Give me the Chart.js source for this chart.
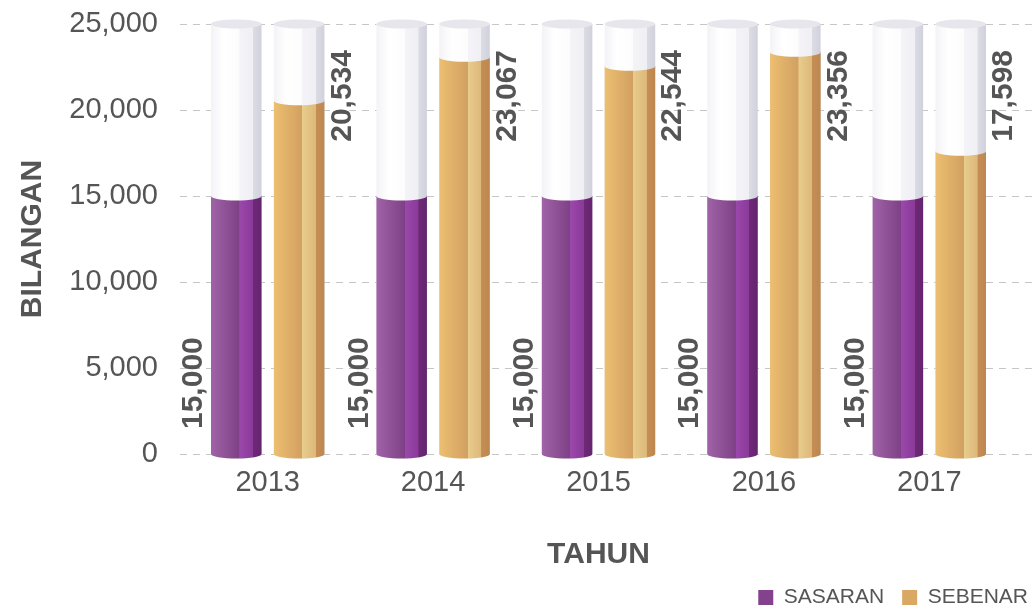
<!DOCTYPE html>
<html>
<head>
<meta charset="utf-8">
<script src="https://cdn.jsdelivr.net/npm/chart.js@4"></script>
<style>
  html, body { margin: 0; padding: 0; background: #fff; }
</style>
</head>
<body>
<canvas id="chart" width="1035" height="609"></canvas>
<script>
const years = ['2013', '2014', '2015', '2016', '2017'];
const sasaran = [15000, 15000, 15000, 15000, 15000];
const sebenar = [20534, 23067, 22544, 23356, 17598];
const yTicks = [0, 5000, 10000, 15000, 20000, 25000];

const textGrey = '#555555';
const fontFamily = '"Liberation Sans", Arial, sans-serif';

// horizontal shading for the 3D tubes and their fills
const shades = {
  tube: [[0, '#f3f3f7'], [0.25, '#ffffff'], [0.56, '#fcfcfd'], [0.565, '#f4f4f8'], [0.83, '#efeff4'], [0.835, '#dcdce5'], [1, '#d1d1dc']],
  purple: [[0, '#a163a8'], [0.56, '#7e4186'], [0.565, '#9a48ab'], [0.83, '#8a3a99'], [0.835, '#6e2977'], [1, '#652470']],
  gold: [[0, '#ecbf70'], [0.56, '#d2a062'], [0.565, '#e7cd8c'], [0.83, '#ddb87a'], [0.835, '#c68e55'], [1, '#bd874f']]
};

function hGrad(ctx, x0, x1, stops) {
  const g = ctx.createLinearGradient(x0, 0, x1, 0);
  stops.forEach(s => g.addColorStop(s[0], s[1]));
  return g;
}

function cylinder(ctx, cx, hw, top, base, ry, stops) {
  ctx.beginPath();
  ctx.moveTo(cx - hw, top);
  ctx.lineTo(cx - hw, base);
  ctx.ellipse(cx, base, hw, ry, 0, Math.PI, 0, true);
  ctx.lineTo(cx + hw, top);
  ctx.closePath();
  ctx.fillStyle = hGrad(ctx, cx - hw, cx + hw, stops);
  ctx.fill();
}

function cap(ctx, cx, hw, y, ry, fill) {
  ctx.beginPath();
  ctx.ellipse(cx, y, hw, ry, 0, 0, Math.PI * 2);
  ctx.fillStyle = fill;
  ctx.fill();
}

const cylinders = {
  id: 'cylinders',
  afterUpdate(chart) {
    // push the legend into the bottom right corner
    const lg = chart.legend;
    lg.left += 34; lg.right += 34;
    lg.top -= 4; lg.bottom -= 4;
  },
  beforeDatasetsDraw(chart) {
    const {ctx, chartArea, scales: {y}} = chart;
    const ry = 4.5;
    ctx.save();
    ctx.strokeStyle = '#c6c6c6';
    ctx.lineWidth = 1;
    ctx.setLineDash([7, 6]);
    yTicks.forEach(v => {
      const py = Math.round(y.getPixelForValue(v)) + 0.5;
      ctx.beginPath();
      ctx.moveTo(chartArea.left - 5, py);
      ctx.lineTo(chart.width, py);
      ctx.stroke();
    });
    ctx.setLineDash([]);
    const topY = y.getPixelForValue(yTicks[yTicks.length - 1]);
    chart.data.datasets.forEach((ds, di) => {
      chart.getDatasetMeta(di).data.forEach(bar => {
        const hw = bar.width / 2;
        cylinder(ctx, bar.x, hw, topY, bar.base, ry, shades.tube);
        cap(ctx, bar.x, hw, topY, ry, '#e6e6ec');
        cylinder(ctx, bar.x, hw, bar.y, bar.base, ry, shades[ds.shade]);
        cap(ctx, bar.x, hw, bar.y, ry, hGrad(ctx, bar.x - hw, bar.x + hw, shades.tube));
      });
    });
    ctx.restore();
  },
  beforeDatasetDraw() {
    return false;
  },
  afterDatasetsDraw(chart) {
    const {ctx, chartArea} = chart;
    ctx.save();
    ctx.font = 'bold 30px ' + fontFamily;
    ctx.fillStyle = textGrey;
    ctx.textBaseline = 'middle';
    chart.data.datasets.forEach((ds, di) => {
      chart.getDatasetMeta(di).data.forEach((bar, i) => {
        const hw = bar.width / 2;
        const low = di === 0;
        const tx = low ? bar.x - hw - 17 : bar.x + hw + 18;
        const ty = low ? chartArea.bottom - 25 : chartArea.top + 26;
        ctx.save();
        ctx.translate(tx, ty);
        ctx.rotate(-Math.PI / 2);
        ctx.textAlign = low ? 'left' : 'right';
        ctx.fillText(ds.data[i].toLocaleString('en-US'), 0, 0);
        ctx.restore();
      });
    });
    ctx.restore();
  }
};

new Chart(document.getElementById('chart'), {
  type: 'bar',
  data: {
    labels: years,
    datasets: [
      { label: 'SASARAN', data: sasaran, backgroundColor: '#84428c', shade: 'purple' },
      { label: 'SEBENAR', data: sebenar, backgroundColor: '#d9a862', shade: 'gold' }
    ]
  },
  options: {
    responsive: false,
    animation: false,
    layout: { padding: { top: 24, right: 23, bottom: -13, left: 0 } },
    datasets: { bar: { categoryPercentage: 0.76, barPercentage: 0.804 } },
    scales: {
      x: {
        grid: { display: false },
        border: { display: false },
        ticks: { color: textGrey, font: { family: fontFamily, size: 29 }, padding: 4 },
        title: {
          display: true, text: 'TAHUN', color: textGrey,
          font: { family: fontFamily, size: 30, weight: 'bold' },
          padding: { top: 0, bottom: 0 }
        },
        afterFit(scale) { scale.height = 119; }
      },
      y: {
        min: 0,
        max: yTicks[yTicks.length - 1],
        grid: { display: false, drawTicks: false },
        border: { display: false },
        afterBuildTicks(scale) { scale.ticks = yTicks.map(v => ({ value: v })); },
        ticks: {
          color: textGrey, font: { family: fontFamily, size: 29 }, padding: 27,
          callback: v => v.toLocaleString('en-US')
        },
        title: {
          display: true, text: 'BILANGAN', color: textGrey,
          font: { family: fontFamily, size: 30, weight: 'bold' },
          padding: { top: 15, bottom: 0 }
        },
        afterFit(scale) {
          scale.width = 185;
          scale.paddingTop = 0;
          scale.paddingBottom = 0;
        }
      }
    },
    plugins: {
      legend: {
        position: 'bottom',
        align: 'end',
        labels: { boxWidth: 15, boxHeight: 15, padding: 18, color: textGrey, font: { family: fontFamily, size: 21 } }
      },
      tooltip: { enabled: false }
    }
  },
  plugins: [cylinders]
});
</script>
</body>
</html>
